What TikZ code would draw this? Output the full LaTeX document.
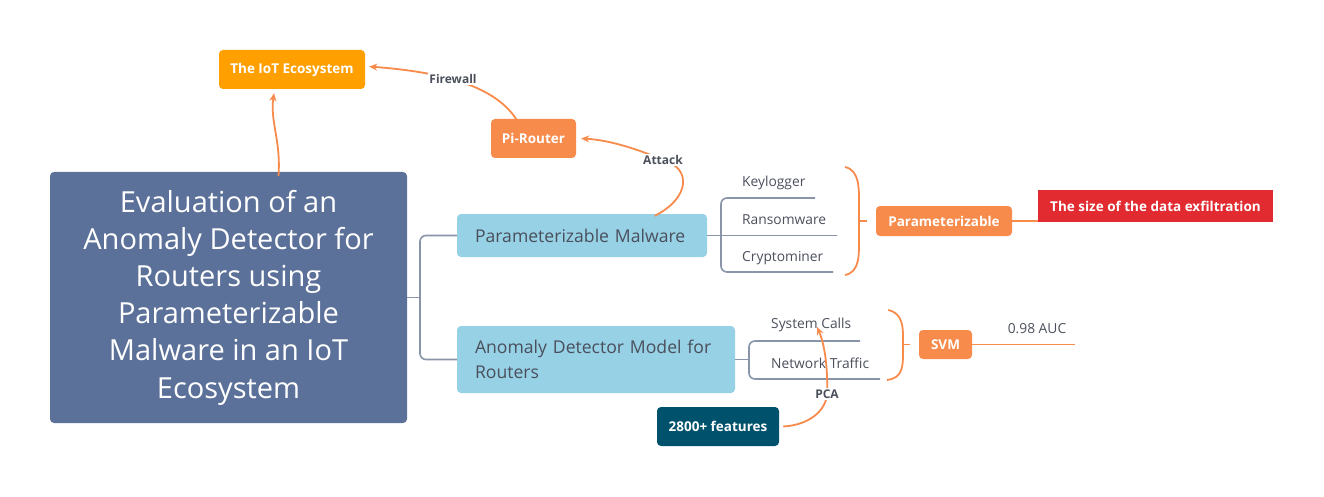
\documentclass[tikz,border=0pt]{standalone}
\usepackage{fontspec}
\setmainfont{Open Sans}
\usetikzlibrary{arrows.meta}
\definecolor{mainblue}{RGB}{91,113,153}
\definecolor{iotorange}{RGB}{255,160,0}
\definecolor{myorange}{RGB}{247,139,76}
\definecolor{lightblue}{RGB}{150,209,230}
\definecolor{darkteal}{RGB}{0,81,107}
\definecolor{myred}{RGB}{226,43,48}
\definecolor{treegray}{RGB}{137,148,168}
\definecolor{txtgray}{RGB}{74,79,91}
\tikzset{
  box/.style={rounded corners=4pt, inner sep=0pt, anchor=center},
  mainbox/.style={box, fill=mainblue, text=white, align=center,
    font=\fontsize{29}{37.2}\selectfont},
  tagbox/.style={box, text=white, font=\bfseries\fontsize{13.5}{16}\selectfont},
  topicbox/.style={box, fill=lightblue, text=txtgray, align=left, inner xsep=18pt,
    font=\fontsize{17.6}{25}\selectfont},
  leaf/.style={anchor=west, inner sep=0pt, text=txtgray, font=\fontsize{13.8}{16}\selectfont},
  conlabel/.style={fill=white, inner sep=1.5pt, text=txtgray, font=\bfseries\fontsize{12}{14}\selectfont},
  tree/.style={draw=treegray, line width=1.6pt, rounded corners=6pt},
  orline/.style={draw=myorange, line width=1.8pt},
  orarrow/.style={orline, -{Stealth[length=8pt,width=7pt]}},
}
\begin{document}
\begin{tikzpicture}[x=1pt,y=-1pt]
\useasboundingbox (0,0) rectangle (1324,497);
% nodes
\node[mainbox, minimum width=357pt, minimum height=251pt] (main) at (228.5,297.5)
  {Evaluation of an\\Anomaly Detector for\\Routers using\\Parameterizable\\Malware in an IoT\\Ecosystem};
\node[tagbox, fill=iotorange, minimum width=146pt, minimum height=39pt] (iot) at (292,69.5) {The IoT Ecosystem};
\node[tagbox, fill=myorange, minimum width=85pt, minimum height=39pt] (pi) at (533.5,138.5) {Pi-Router};
\node[topicbox, text width=214pt, minimum height=43pt] (pm) at (582,235.5) {Parameterizable Malware};
\node[topicbox, text width=242pt, minimum height=67pt] (ad) at (596,359.5) {Anomaly Detector Model for\\Routers};
\node[tagbox, fill=myorange, minimum width=136pt, minimum height=30pt] (param) at (944,221) {Parameterizable};
\node[tagbox, fill=myred, rounded corners=0pt, minimum width=235pt, minimum height=32pt] (red) at (1155.5,206) {The size of the data exfiltration};
\node[tagbox, fill=myorange, minimum width=53pt, minimum height=29pt] (svm) at (945.5,344.5) {SVM};
\node[tagbox, fill=darkteal, minimum width=122pt, minimum height=39pt] (feat) at (718,426.5) {2800+ features};
% leaves
\node[leaf] (kl) at (742,183) {Keylogger};
\node[leaf] (rw) at (742,220) {Ransomware};
\node[leaf] (cm) at (742,258) {Cryptominer};
\node[leaf] (sc) at (771,325) {System Calls};
\node[leaf] (nt) at (771,363) {Network Traffic};
\node[leaf, anchor=center] (auc) at (1037,329) {0.98 AUC};
% coordinates
\coordinate (mj) at (420,297.5);
\coordinate (klend) at (815,198);
\coordinate (rwend) at (837,235.5);
\coordinate (cmend) at (833,272);
\coordinate (scend) at (860,341);
\coordinate (ntend) at (880,379);
\coordinate (aucend) at (1075,344.5);
% tree from main
\draw[tree] (main.east) -- (mj);
\draw[tree] (pm.west) -- (mj |- pm.west) -- (mj |- ad.west) -- (ad.west);
% malware leaves
\draw[tree] (pm.east) -- (rwend);
\draw[tree] (klend) -- (721,198) -- (721,272) -- (cmend);
% anomaly leaves
\draw[tree] (ad.east) -- (749,359.5);
\draw[tree] (scend) -- (749,341) -- (749,379) -- (ntend);
% braces
\draw[orline] (845,167) .. controls (860,170) and (859,190) .. (859,205) -- (859,237)
   .. controls (859,255) and (860,272) .. (845,275);
\coordinate (b1) at (859,221);
\coordinate (b1t) at (867,221);
\draw[orline] (b1) -- (b1t);
\draw[orline] (888,310) .. controls (903,313) and (903,328) .. (903,338) -- (903,352)
   .. controls (903,366) and (903,378) .. (887,380);
\coordinate (b2) at (903,344.5);
\coordinate (b2t) at (910,344.5);
\draw[orline] (b2) -- (b2t);
\draw[orline] (param.east) -- (param.east -| red.west);
\draw[orline] (svm.east) -- (aucend);
% arrows
\draw[orarrow] ([xshift=50pt,yshift=-4pt]main.north) .. controls (281,140) and (270,122) .. ([xshift=-18pt,yshift=-4pt]iot.south);
\draw[orarrow] ([xshift=-15pt,yshift=-4pt]pi.north) .. controls (497,85) and (440,72) .. ([xshift=4pt,yshift=3pt]iot.east);
\node[conlabel] (fw) at (453,79) {Firewall};
\draw[orarrow] ([xshift=198pt,yshift=-2pt]pm.north west) .. controls (690,198) and (692,168) .. (663,160)
   .. controls (640,150) and (610,140) .. ([xshift=5pt]pi.east);
\node[conlabel] (att) at (663,160) {Attack};
\draw[orarrow] ([xshift=4pt]feat.east) .. controls (810,425) and (826,410) .. (827,394)
   .. controls (828,370) and (825,345) .. (817,327);
\node[conlabel] (pca) at (827,394) {PCA};
\end{tikzpicture}
\end{document}
